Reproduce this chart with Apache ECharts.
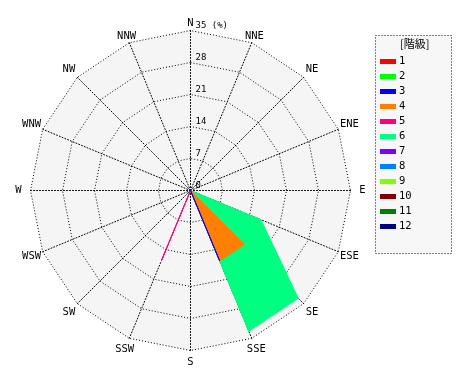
<!DOCTYPE html>
<html><head><meta charset="utf-8">
<script src="https://cdn.jsdelivr.net/npm/echarts@6/dist/echarts.min.js"></script>
<style>html,body{margin:0;padding:0;background:#fff}#c{width:470px;height:380px}</style>
</head><body><div id="c"></div>
<script>
// directions clockwise from N
const directions = ['N','NNE','NE','ENE','E','ESE','SE','SSE','S','SSW','SW','WSW','W','WNW','NW','NNW'];
const classNames = ['1','2','3','4','5','6','7','8','9','10','11','12'];
const classColors = ['#ff0000','#00ff00','#0000ff','#ff8000','#ff0080','#00ff80','#8000ff','#0080ff','#80ff00','#800000','#008000','#000080'];
const radialTicks = [0, 7, 14, 21, 28, 35];
// frequency (%) per class, clockwise order of directions
const class1  = [0,0,0,0,0,0,0,0,0,0,0,0,0,0,0,0];
const class2  = [0,0,0,0,0,0,0,0,0,0,0,0,0,0,0,0];
const class3  = [0,0,0,0,0,0,0,16.67,0,0,0,0,0,0,0,0];
const class4  = [0,0,0,0,0,0,16.67,16.67,0,0,0,0,0,0,0,0];
const class5  = [0,0,0,0,0,0,0,0,0,16.67,0,0,0,0,0,0];
const class6  = [0,0,0,0,0,16.67,33.33,33.33,0,0,0,0,0,0,0,0];
const class7  = [0,0,0,0,0,0,0,0,0,0,0,0,0,0,0,0];
const class8  = [0,0,0,0,0,0,0,0,0,0,0,0,0,0,0,0];
const class9  = [0,0,0,0,0,0,0,0,0,0,0,0,0,0,0,0];
const class10 = [0,0,0,0,0,0,0,0,0,0,0,0,0,0,0,0];
const class11 = [0,0,0,0,0,0,0,0,0,0,0,0,0,0,0,0];
const class12 = [0,0,0,0,0,0,0,0,0,0,0,0,0,0,0,0];
const classValues = [class1,class2,class3,class4,class5,class6,class7,class8,class9,class10,class11,class12];

// radar draws indicators counter-clockwise: reorder
const order = [0];
for (let i = directions.length - 1; i >= 1; i--) order.push(i);
const maxVal = radialTicks[radialTicks.length - 1];
const FONT = 'DejaVu Sans Mono';
const DOT = [1, 2];
const nearTop = ['N', 'NNE', 'NNW'];

const indicator = order.map((idx, k) => {
  const ind = { name: directions[idx], max: maxVal, min: 0, nameMoveOverlap: false };
  if (nearTop.indexOf(directions[idx]) >= 0) ind.nameGap = 7;
  if (k === 0) {
    ind.axisLabel = {
      show: true, color: '#000', fontSize: 9, fontFamily: FONT,
      margin: -5, align: 'left', verticalAlign: 'bottom',
      formatter: v => (v === maxVal ? v + ' (%)' : String(v))
    };
  }
  return ind;
});

const dataItems = [];
for (let c = classNames.length - 1; c >= 0; c--) {
  dataItems.push({
    name: classNames[c],
    value: order.map(idx => classValues[c][idx]),
    itemStyle: { color: classColors[c] },
    lineStyle: { color: classColors[c], width: 1 },
    areaStyle: { color: classColors[c], opacity: 1 }
  });
}

const chart = echarts.init(document.getElementById('c'), null, { renderer: 'canvas' });
chart.setOption({
  animation: false,
  backgroundColor: '#fff',
  graphic: [{
    type: 'rect', left: 375, top: 35, z: -1,
    shape: { x: 0.5, y: 0.5, width: 76, height: 218 },
    style: { fill: '#f7f7f7', stroke: '#000', lineWidth: 1, lineDash: DOT }
  }],
  title: {
    text: '[階級]', left: 400, top: 38, padding: 0,
    textStyle: { fontSize: 11, fontWeight: 'normal', color: '#000', fontFamily: 'Noto Sans CJK JP' }
  },
  legend: {
    orient: 'vertical', left: 375, top: 50,
    data: classNames, icon: 'rect', itemWidth: 16, itemHeight: 5, itemGap: 2,
    selectedMode: false,
    textStyle: { fontSize: 10.5, color: '#000', fontFamily: FONT, lineHeight: 13, padding: [0,0,0,-2] }
  },
  radar: {
    center: [190.5, 190.5], radius: 160, startAngle: 90, shape: 'polygon', splitNumber: 5,
    indicator: indicator,
    nameGap: 12,
    axisName: { color: '#000', fontSize: 10.5, fontFamily: FONT, align: 'center', verticalAlign: 'middle' },
    axisLine: { lineStyle: { color: '#000', type: DOT, width: 1 } },
    splitLine: { lineStyle: { color: '#000', type: DOT, width: 1 } },
    splitArea: { show: true, areaStyle: { color: ['#f5f5f5'] } },
    axisTick: { show: false },
    axisLabel: { show: false }
  },
  series: [{
    type: 'radar', symbol: 'none', silent: true,
    data: dataItems
  }]
});
</script></body></html>
